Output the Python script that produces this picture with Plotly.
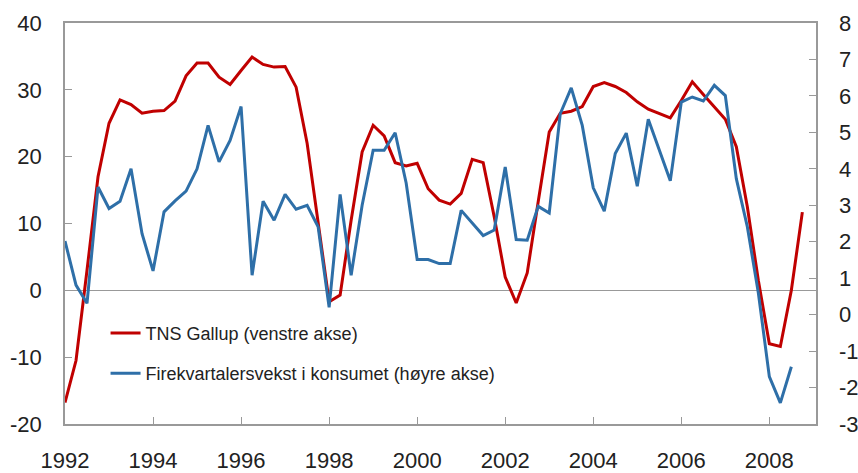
import plotly.graph_objects as go

start_year = 1992.0
tns_gallup = [-16.8, -10.5, 3.0, 17.0, 25.0, 28.5, 27.8, 26.5, 26.8, 26.9, 28.3, 32.1,
              34.0, 34.0, 31.9, 30.8, 32.9, 34.9, 33.8, 33.4, 33.5, 30.4, 22.0, 10.0,
              -1.7, -0.7, 10.5, 20.7, 24.7, 23.1, 19.1, 18.6, 19.0, 15.2, 13.5, 12.9,
              14.5, 19.6, 19.1, 11.0, 2.0, -1.9, 2.6, 13.3, 23.7, 26.5, 26.8, 27.5,
              30.5, 31.1, 30.5, 29.6, 28.2, 27.1, 26.4, 25.8, 28.4, 31.2, 29.3, 27.5,
              25.6, 21.5, 12.5, 1.5, -8.0, -8.4, 0.0, 11.7]
konsum = [2.02, 0.81, 0.31, 3.50, 2.91, 3.11, 4.00, 2.22, 1.20, 2.82, 3.12, 3.39,
          4.00, 5.19, 4.19, 4.78, 5.71, 1.08, 3.11, 2.59, 3.30, 2.89, 3.00, 2.41,
          0.20, 3.30, 1.08, 3.00, 4.51, 4.51, 4.99, 3.61, 1.51, 1.51, 1.40, 1.40,
          2.86, 2.52, 2.17, 2.32, 4.05, 2.06, 2.04, 2.97, 2.79, 5.51, 6.22, 5.19,
          3.48, 2.84, 4.42, 4.98, 3.52, 5.36, 4.51, 3.67, 5.83, 5.97, 5.86, 6.29,
          6.01, 3.73, 2.41, 0.60, -1.70, -2.42, -1.43]
x_red = [start_year + i * 0.25 for i in range(len(tns_gallup))]
x_blue = [start_year + i * 0.25 for i in range(len(konsum))]

x_ticks = list(range(1992, 2009, 2))
left_ticks = list(range(-20, 41, 10))
right_ticks = list(range(-3, 9))

red = "#C00000"
blue = "#2E6FA8"
grey = "#999999"
font = "Liberation Sans, Arial, sans-serif"

fig = go.Figure()
fig.add_trace(go.Scatter(x=x_red, y=tns_gallup, mode="lines", name="TNS Gallup (venstre akse)",
                         line=dict(color=red, width=3), yaxis="y", legend="legend"))
fig.add_trace(go.Scatter(x=x_blue, y=konsum, mode="lines",
                         name="Firekvartalersvekst i konsumet (høyre akse)",
                         line=dict(color=blue, width=3), yaxis="y2", legend="legend2"))

leg_common = dict(xanchor="left", yanchor="middle", bgcolor="rgba(0,0,0,0)",
                  font=dict(size=18, color="#222222"), itemwidth=30)

fig.update_layout(
    width=858, height=473,
    margin=dict(l=65, r=42, t=23, b=49, autoexpand=False),
    paper_bgcolor="white", plot_bgcolor="white",
    font=dict(family=font, size=22, color="#222222"),
    showlegend=True,
    legend=dict(x=0.054, y=0.226, **leg_common),
    legend2=dict(x=0.054, y=0.126, **leg_common),
    xaxis=dict(range=[1992, 2009.06], tickvals=x_ticks, ticks="inside", ticklen=7,
               tickcolor=grey, showgrid=False, zeroline=False, showline=True,
               linecolor=grey, linewidth=1.5, mirror=True, ticklabelstandoff=16,
               automargin=False),
    yaxis=dict(range=[-20, 40], tickvals=left_ticks,
               ticktext=[str(v) for v in left_ticks], ticks="inside", ticklen=7,
               tickcolor=grey, showgrid=False, zeroline=True, zerolinecolor=grey,
               zerolinewidth=1.2, showline=True, linecolor=grey, linewidth=1.5,
               mirror=True, ticklabelstandoff=17, automargin=False),
    yaxis2=dict(range=[-3, 8], tickvals=right_ticks,
                ticktext=[str(v) for v in right_ticks], overlaying="y", side="right",
                ticks="inside", ticklen=7, tickcolor=grey, showgrid=False,
                zeroline=False, showline=False, ticklabelstandoff=22, automargin=False),
)

fig.write_html("out.html", config={"displayModeBar": False},
               post_script="document.body.style.margin='0px';")
